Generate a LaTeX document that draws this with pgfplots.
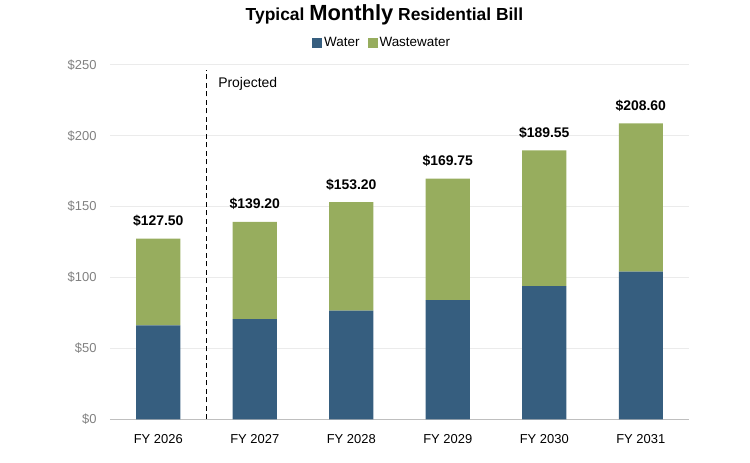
\documentclass[border=0pt]{standalone}
\usepackage{fontspec}
\setmainfont{Liberation Sans}
\usepackage{pgfplots}
\pgfplotsset{compat=1.18}
\definecolor{water}{HTML}{365E7F}
\definecolor{waste}{HTML}{97AD5E}
\definecolor{ticktext}{HTML}{808080}
\begin{document}
\begin{tikzpicture}
\path[use as bounding box] (-110bp,-43.5bp) rectangle (640bp,419.5bp);
\begin{axis}[
    at={(0,0)}, anchor=south west,
    scale only axis,
    width=579bp, height=354.8bp,
    ybar stacked,
    stacked ignores zero=false,
    bar width=0.456,
    xmin=-0.5, xmax=5.5,
    ymin=0, ymax=250,
    xtick={0,1,2,3,4,5},
    xticklabels={FY 2026,FY 2027,FY 2028,FY 2029,FY 2030,FY 2031},
    ytick={0,50,100,150,200,250},
    yticklabels={\$0,\$50,\$100,\$150,\$200,\$250},
    axis x line*=bottom, axis y line*=left,
    x axis line style={draw=black!25, line width=1.2bp},
    y axis line style={draw=none},
    xtick style={draw=none}, ytick style={draw=none},
    ymajorgrids,
    grid style={draw=black!8, line width=0.8bp},
    xticklabel style={font=\fontsize{13}{15}\selectfont, yshift=-11bp},
    yticklabel style={font=\fontsize{13}{15}\selectfont, text=ticktext, xshift=-10bp},
    legend style={at={(0.47,1.061)}, anchor=center, draw=none, fill=none,
        legend columns=2, font=\fontsize{13.5}{15}\selectfont,
        /tikz/every even column/.append style={column sep=6bp}},
    legend image code/.code={\fill[#1,draw=none] (0bp,-4.5bp) rectangle (10bp,5bp);},
    clip=false,
]
\addplot[fill=water, draw=none] coordinates {
    (0,66.4) (1,70.8) (2,76.7) (3,84.2) (4,93.9) (5,104.2)
};
\addlegendentry{Water}
\addplot[fill=waste, draw=none] coordinates {
    (0,61.10) (1,68.40) (2,76.50) (3,85.55) (4,95.65) (5,104.40)
};
\addlegendentry{Wastewater}
% zero-height segment on top of each stack carries the total label
\addplot[draw=none, fill=none, forget plot,
    point meta=explicit symbolic,
    nodes near coords,
    nodes near coords style={anchor=base, inner sep=0pt, yshift=13bp,
        font=\fontsize{14}{16}\selectfont\bfseries, text=black}]
    coordinates {
    (0,0) [\$127.50]
    (1,0) [\$139.20]
    (2,0) [\$153.20]
    (3,0) [\$169.75]
    (4,0) [\$189.55]
    (5,0) [\$208.60]
};
\draw[black, line width=1.2bp, dash pattern=on 5bp off 3.5bp] (axis cs:0.5,0) -- (axis cs:0.5,246.5);
\node[anchor=west, inner sep=0pt, font=\fontsize{14}{16}\selectfont] at (axis cs:0.62,236.2) {Projected};
\node[font=\bfseries\fontsize{17.5}{20}\selectfont] at (rel axis cs:0.474,1.14)
    {Typical {\fontsize{22}{24}\selectfont Monthly} Residential Bill};
\end{axis}
\end{tikzpicture}
\end{document}
